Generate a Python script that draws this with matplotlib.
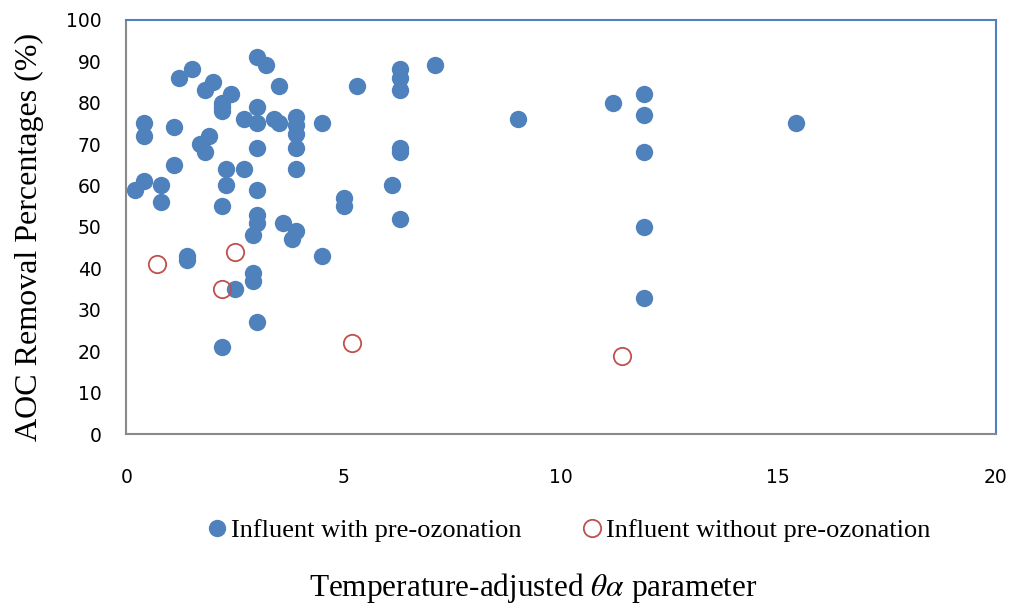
import matplotlib; matplotlib.use('Agg')
from matplotlib import pyplot as plt

# filled points: influent with pre-ozonation
with_x = [0.2, 0.4, 0.4, 0.4, 0.8, 0.8, 1.1, 1.1, 1.2, 1.4, 1.4, 1.5, 1.7, 1.8, 1.8, 1.9, 2.0,
          2.2, 2.2, 2.2, 2.2, 2.2, 2.3, 2.3, 2.4, 2.5, 2.7, 2.7, 2.9, 2.9, 2.9,
          3.0, 3.0, 3.0, 3.0, 3.0, 3.0, 3.0, 3.0, 3.2, 3.4, 3.5, 3.5, 3.6, 3.8,
          3.9, 3.9, 3.9, 3.9, 3.9, 3.9, 4.5, 4.5, 5.0, 5.0, 5.3, 6.1,
          6.3, 6.3, 6.3, 6.3, 6.3, 6.3, 7.1, 9.0, 11.2, 11.9, 11.9, 11.9, 11.9, 11.9, 15.4]
with_y = [59, 61, 75, 72, 60, 56, 74, 65, 86, 43, 42, 88, 70, 83, 68, 72, 85,
          80, 79, 78, 55, 21, 64, 60, 82, 35, 76, 64, 48, 39, 37,
          91, 79, 75, 69, 59, 53, 51, 27, 89, 76, 75, 84, 51, 47,
          76.5, 74.5, 72.5, 69, 64, 49, 75, 43, 57, 55, 84, 60,
          88, 86, 83, 69, 68, 52, 89, 76, 80, 82, 77, 68, 50, 33, 75]

# open points: influent without pre-ozonation
without_x = [0.7, 2.2, 2.5, 5.2, 11.4]
without_y = [41, 35, 44, 22, 19]

xticks = [0, 5, 10, 15, 20]
yticks = [0, 10, 20, 30, 40, 50, 60, 70, 80, 90, 100]

plt.rcParams['mathtext.fontset'] = 'stix'

fig = plt.figure(figsize=(10.12, 6.11), dpi=100)
ax = fig.add_axes([0.125, 0.289, 0.8587, 0.679])

ax.plot(with_x, with_y, 'o', color='#4F81BD', markersize=12.5, markeredgewidth=0,
        label='Influent with pre-ozonation')
ax.plot(without_x, without_y, 'o', markerfacecolor='none', markeredgecolor='#C0504D',
        markersize=12.5, markeredgewidth=1.3, label='Influent without pre-ozonation')

ax.set_xlim(0, 20)
ax.set_ylim(0, 100)
ax.set_xticks(xticks)
ax.set_yticks(yticks)
ax.tick_params(length=0, labelsize=13.5)
ax.tick_params(axis='x', pad=24)
ax.tick_params(axis='y', pad=18)
for lab in ax.get_xticklabels() + ax.get_yticklabels():
    lab.set_family('DejaVu Sans')

ax.spines['left'].set_color('#898989')
ax.spines['bottom'].set_color('#898989')
ax.spines['top'].set_color('#4F81BD')
ax.spines['right'].set_color('#4F81BD')
for s in ax.spines.values():
    s.set_linewidth(1.5)

ax.set_ylabel('AOC Removal Percentages (%)', family='Liberation Serif', fontsize=23)
ax.yaxis.set_label_coords(-0.095, 0.475)
fig.text(0.527, 0.038, r'Temperature-adjusted $\theta\alpha$ parameter', family='Liberation Serif',
         fontsize=22.5, ha='center', va='center')

ax.legend(loc='center', bbox_to_anchor=(0.507, -0.232), ncol=2, frameon=False,
          prop={'family': 'Liberation Serif', 'size': 19}, handletextpad=0.0,
          columnspacing=2.2, handlelength=1.0)

plt.savefig('out.png')
